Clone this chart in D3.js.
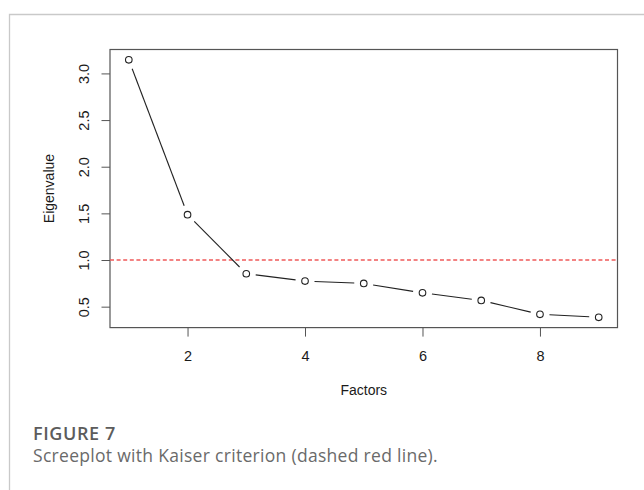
<!DOCTYPE html>
<html>
<head>
<meta charset="utf-8">
<script src="https://cdn.jsdelivr.net/npm/d3@7"></script>
<style>
  body { margin: 0; background: #fff; }
  svg { display: block; }
  .tick text { font-family: "Liberation Sans", Arial, sans-serif; font-size: 14.5px; }
</style>
</head>
<body>
<script>
var factors = [1, 2, 3, 4, 5, 6, 7, 8, 9];
var eigenvalues = [3.146, 1.486, 0.853, 0.774, 0.749, 0.648, 0.567, 0.418, 0.386];
var xTicks = [2, 4, 6, 8];
var yTicks = [0.5, 1.0, 1.5, 2.0, 2.5, 3.0];
var kaiser = 1.0;

var svgWidth = 644;
var svgHeight = 490;

var box = { left: 110, top: 49.5, right: 617.5, bottom: 327.6 };

var svg = d3.select("body")
  .append("svg")
  .attr("width", svgWidth)
  .attr("height", svgHeight);

// outer figure frame (top + left only visible)
svg.append("path")
  .attr("d", `M9.5,${svgHeight} V14.5 H${svgWidth}`)
  .attr("fill", "none")
  .attr("stroke", "#c9c9c9")
  .attr("stroke-width", 1.3);

// R-style 4% padding on both axes
var xExt = d3.extent(factors);
var xPad = (xExt[1] - xExt[0]) * 0.04;
var yExt = d3.extent(eigenvalues);
var yPad = (yExt[1] - yExt[0]) * 0.04;

var x = d3.scaleLinear()
  .domain([xExt[0] - xPad, xExt[1] + xPad])
  .range([box.left, box.right]);

var y = d3.scaleLinear()
  .domain([yExt[0] - yPad, yExt[1] + yPad])
  .range([box.bottom, box.top]);

// axes
var bottomAxis = d3.axisBottom(x).tickValues(xTicks).tickFormat(d3.format("d"))
  .tickSizeInner(9).tickSizeOuter(0).tickPadding(14);
var leftAxis = d3.axisLeft(y).tickValues(yTicks).tickFormat(d3.format(".1f"))
  .tickSizeInner(8.5).tickSizeOuter(0);

var gx = svg.append("g")
  .attr("transform", `translate(0, ${box.bottom})`)
  .call(bottomAxis);
gx.select(".domain").remove();
gx.selectAll(".tick line").attr("stroke", "#555");
gx.selectAll(".tick text").attr("fill", "#1a1a1a");

var gy = svg.append("g")
  .attr("transform", `translate(${box.left}, 0)`)
  .call(leftAxis);
gy.select(".domain").remove();
gy.selectAll(".tick line").attr("stroke", "#555");
gy.selectAll(".tick text")
  .attr("fill", "#1a1a1a")
  .attr("x", null)
  .attr("dy", null)
  .attr("text-anchor", "middle")
  .attr("transform", "translate(-21,0) rotate(-90)");

// plot box
svg.append("rect")
  .attr("x", box.left)
  .attr("y", box.top)
  .attr("width", box.right - box.left)
  .attr("height", box.bottom - box.top)
  .attr("fill", "none")
  .attr("stroke", "#555")
  .attr("stroke-width", 1.2);

// Kaiser criterion line
svg.append("line")
  .attr("x1", box.left)
  .attr("x2", box.right)
  .attr("y1", y(kaiser))
  .attr("y2", y(kaiser))
  .attr("stroke", "#ef5a5a")
  .attr("stroke-width", 1.4)
  .attr("stroke-dasharray", "4,2.6");

// line segments with gaps around the points (R type = "b")
var gap = 9.5;
var pts = factors.map((f, i) => [x(f), y(eigenvalues[i])]);
var segs = d3.pairs(pts).map(function(p) {
  var dx = p[1][0] - p[0][0], dy = p[1][1] - p[0][1];
  var len = Math.sqrt(dx * dx + dy * dy);
  var ux = dx / len, uy = dy / len;
  return [[p[0][0] + ux * gap, p[0][1] + uy * gap], [p[1][0] - ux * gap, p[1][1] - uy * gap]];
});

svg.append("g").selectAll("line")
  .data(segs)
  .join("line")
  .attr("x1", d => d[0][0])
  .attr("y1", d => d[0][1])
  .attr("x2", d => d[1][0])
  .attr("y2", d => d[1][1])
  .attr("stroke", "#222")
  .attr("stroke-width", 1.1);

svg.append("g").selectAll("circle")
  .data(factors)
  .join("circle")
  .attr("cx", d => x(d))
  .attr("cy", (d, i) => y(eigenvalues[i]))
  .attr("r", 3.3)
  .attr("fill", "#fff")
  .attr("stroke", "#222")
  .attr("stroke-width", 1.1);

// axis titles
svg.append("text")
  .attr("x", (box.left + box.right) / 2)
  .attr("y", 395)
  .attr("text-anchor", "middle")
  .attr("font-family", "Liberation Sans, Arial, sans-serif")
  .attr("font-size", 14)
  .attr("fill", "#1a1a1a")
  .text("Factors");

svg.append("text")
  .attr("transform", `translate(53.5, ${(box.top + box.bottom) / 2}) rotate(-90)`)
  .attr("text-anchor", "middle")
  .attr("font-family", "Liberation Sans, Arial, sans-serif")
  .attr("font-size", 14)
  .attr("fill", "#1a1a1a")
  .text("Eigenvalue");

// caption
svg.append("text")
  .attr("x", 33)
  .attr("y", 440)
  .attr("font-family", "Open Sans, sans-serif")
  .attr("font-weight", 600)
  .attr("font-size", 18)
  .attr("letter-spacing", 0.6)
  .attr("fill", "#5c5c5c")
  .text("FIGURE 7");

svg.append("text")
  .attr("x", 33)
  .attr("y", 462)
  .attr("font-family", "Open Sans, sans-serif")
  .attr("font-weight", 400)
  .attr("font-size", 17.5)
  .attr("letter-spacing", 0.3)
  .attr("fill", "#6a6a6a")
  .text("Screeplot with Kaiser criterion (dashed red line).");
</script>
</body>
</html>
